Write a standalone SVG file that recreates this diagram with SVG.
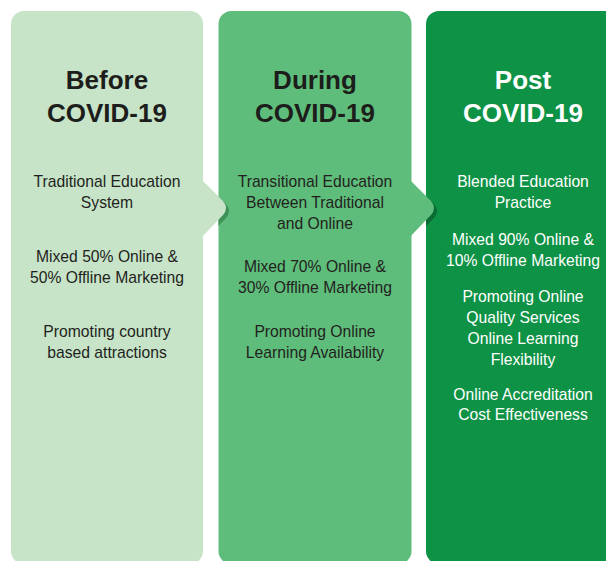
<svg xmlns="http://www.w3.org/2000/svg" width="606" height="561" viewBox="0 0 606 561">
<style>
.t{font-family:"Liberation Sans",Arial,sans-serif;font-weight:bold;font-size:26px;text-anchor:middle;fill:#1d1d1b}
.b{font-family:"Liberation Sans",Arial,sans-serif;font-size:15.7px;text-anchor:middle;fill:#231f20}
.w{fill:#ffffff}
</style>
<defs>
<clipPath id="c2"><rect x="218.5" y="11" width="193" height="553"/></clipPath>
<clipPath id="c3"><rect x="426" y="11" width="200" height="553"/></clipPath>
</defs>
<rect width="606" height="561" fill="#ffffff"/>
<g id="col-before">
<rect x="11" y="11" width="192" height="553" rx="13" fill="#c7e4c8"/>
<text class="t" x="107" y="89">Before</text>
<text class="t" x="107" y="122">COVID-19</text>
<text class="b" x="107" y="187">Traditional Education</text>
<text class="b" x="107" y="208">System</text>
<text class="b" x="107" y="262">Mixed 50% Online &amp;</text>
<text class="b" x="107" y="283">50% Offline Marketing</text>
<text class="b" x="107" y="337">Promoting country</text>
<text class="b" x="107" y="358">based attractions</text>
</g>
<g id="col-during">
<rect x="218.5" y="11" width="193" height="553" rx="13" fill="#5ebd7a"/>
<text class="t" x="315" y="89">During</text>
<text class="t" x="315" y="122">COVID-19</text>
<text class="b" x="315" y="187">Transitional Education</text>
<text class="b" x="315" y="208">Between Traditional</text>
<text class="b" x="315" y="229">and Online</text>
<text class="b" x="315" y="272">Mixed 70% Online &amp;</text>
<text class="b" x="315" y="293">30% Offline Marketing</text>
<text class="b" x="315" y="337">Promoting Online</text>
<text class="b" x="315" y="358">Learning Availability</text>
</g>
<g id="col-post">
<rect x="426" y="11" width="200" height="553" rx="13" fill="#0e9245"/>
<text class="t w" x="523" y="89">Post</text>
<text class="t w" x="523" y="122">COVID-19</text>
<text class="b w" x="523" y="187">Blended Education</text>
<text class="b w" x="523" y="208">Practice</text>
<text class="b w" x="523" y="245">Mixed 90% Online &amp;</text>
<text class="b w" x="523" y="266">10% Offline Marketing</text>
<text class="b w" x="523" y="302">Promoting Online</text>
<text class="b w" x="523" y="323">Quality Services</text>
<text class="b w" x="523" y="344">Online Learning</text>
<text class="b w" x="523" y="365">Flexibility</text>
<text class="b w" x="523" y="400">Online Accreditation</text>
<text class="b w" x="523" y="420">Cost Effectiveness</text>
</g>
<g id="connectors">
<g clip-path="url(#c2)"><path d="M200 178 L223 201 Q229 208 223 215 L198 241 Z" transform="translate(3,3)" fill="#3e9157"/></g>
<path d="M200 178 L223 201 Q229 208 223 215 L198 241 Z" fill="#c7e4c8"/>
<g clip-path="url(#c3)"><path d="M408 178 L431 201 Q437 208 431 215 L406 241 Z" transform="translate(3,3)" fill="#0a6b32"/></g>
<path d="M408 178 L431 201 Q437 208 431 215 L406 241 Z" fill="#5ebd7a"/>
</g>
</svg>
